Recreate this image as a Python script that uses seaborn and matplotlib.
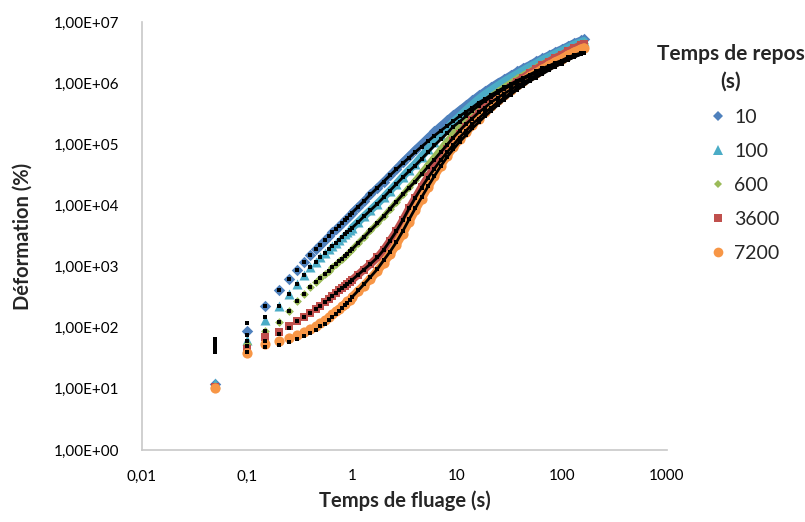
import matplotlib
matplotlib.use("Agg")
import matplotlib.pyplot as plt
import seaborn as sns
from matplotlib.lines import Line2D
from matplotlib.ticker import FixedLocator, FuncFormatter, NullLocator

# Temps de fluage (s)
temps = [0.05, 0.1, 0.15, 0.2, 0.25, 0.3, 0.35, 0.4, 0.45, 0.5,
         0.55, 0.6, 0.65, 0.7, 0.75, 0.8, 0.85, 0.9, 0.95, 1.0,
         1.15, 1.3, 1.5, 1.75, 2.0, 2.3, 2.65, 3.05, 3.5, 4.0,
         4.6, 5.3, 6.1, 7.0, 8.05, 9.25, 10.6, 12.2, 14.0, 16.1,
         18.5, 21.3, 24.5, 28.2, 32.4, 37.3, 42.9, 49.3, 56.7, 65.2,
         75.0, 86.2, 99.2, 114, 131, 151, 162]

repos = ["10", "100", "600", "3600", "7200"]

# Déformation (%) mesurée
def_10 = [12, 87, 224, 407, 631, 891, 1200, 1550, 1910, 2290,
          2690, 3160, 3630, 4170, 4680, 5250, 5750, 6310, 6920, 7590,
          9550, 11700, 15100, 19500, 24500, 30900, 39800, 51300, 64600, 81300,
          1.02e5, 1.29e5, 1.62e5, 2.0e5, 2.45e5, 3.02e5, 3.63e5, 4.37e5, 5.25e5, 6.31e5,
          7.41e5, 8.71e5, 1.02e6, 1.17e6, 1.35e6, 1.55e6, 1.78e6, 2.0e6, 2.29e6, 2.57e6,
          2.88e6, 3.24e6, 3.63e6, 4.07e6, 4.57e6, 5.01e6, 5.25e6]
def_100 = [12.6, 63, 132, 224, 355, 525, 724, 977, 1170, 1410,
           1660, 1910, 2190, 2450, 2750, 3090, 3390, 3720, 3980, 4270,
           5370, 6610, 8320, 10700, 13500, 17400, 22400, 29500, 38000, 47900,
           63100, 83200, 1.10e5, 1.41e5, 1.82e5, 2.34e5, 2.88e5, 3.63e5, 4.47e5, 5.50e5,
           6.61e5, 7.76e5, 9.12e5, 1.07e6, 1.23e6, 1.41e6, 1.62e6, 1.86e6, 2.09e6, 2.40e6,
           2.69e6, 3.02e6, 3.39e6, 3.80e6, 4.27e6, 4.68e6, 4.90e6]
def_600 = [11.2, 55, 89, 126, 191, 269, 355, 457, 562, 661,
           759, 851, 977, 1100, 1230, 1350, 1480, 1620, 1780, 1910,
           2450, 3020, 3890, 5130, 6610, 8710, 11500, 15100, 20000, 25700,
           34700, 46800, 63100, 85100, 1.15e5, 1.51e5, 2.0e5, 2.57e5, 3.24e5, 4.07e5,
           5.01e5, 6.17e5, 7.41e5, 8.71e5, 1.02e6, 1.20e6, 1.38e6, 1.58e6, 1.82e6, 2.09e6,
           2.34e6, 2.63e6, 3.02e6, 3.39e6, 3.80e6, 4.27e6, 4.47e6]
def_3600 = [10.7, 45.7, 69.2, 85.1, 105, 129, 148, 174, 200, 229,
            263, 295, 331, 372, 407, 447, 490, 525, 562, 603,
            741, 891, 1100, 1410, 1860, 2630, 3800, 5750, 8910, 13200,
            20000, 29500, 42700, 60300, 83200, 1.12e5, 1.48e5, 1.95e5, 2.51e5, 3.16e5,
            3.98e5, 4.90e5, 6.03e5, 7.24e5, 8.71e5, 1.05e6, 1.23e6, 1.45e6, 1.70e6, 1.95e6,
            2.24e6, 2.57e6, 2.88e6, 3.31e6, 3.72e6, 4.17e6, 4.37e6]
def_7200 = [10.5, 38.9, 53.7, 60.3, 67.6, 75.9, 85.1, 95.5, 107, 120,
            135, 151, 166, 186, 204, 224, 245, 269, 288, 316,
            398, 490, 631, 851, 1150, 1580, 2290, 3470, 5370, 8320,
            12900, 20000, 30200, 44700, 64600, 89100, 1.20e5, 1.58e5, 2.04e5, 2.63e5,
            3.31e5, 4.17e5, 5.25e5, 6.46e5, 7.76e5, 9.33e5, 1.10e6, 1.29e6, 1.48e6, 1.70e6,
            1.95e6, 2.24e6, 2.51e6, 2.88e6, 3.24e6, 3.63e6, 3.80e6]

# Déformation (%) du modèle (points noirs)
fit_10 = [66, 120, 224, 407, 631, 891, 1200, 1550, 1910, 2290,
          2690, 3160, 3630, 4170, 4680, 5250, 5750, 6310, 6920, 7590,
          9550, 11700, 15100, 19500, 24500, 30900, 38900, 49000, 60300, 74100,
          91200, 1.12e5, 1.38e5, 1.66e5, 2.0e5, 2.40e5, 2.88e5, 3.39e5, 3.98e5, 4.79e5,
          5.50e5, 6.46e5, 7.41e5, 8.51e5, 9.55e5, 1.10e6, 1.23e6, 1.38e6, 1.55e6, 1.74e6,
          1.91e6, 2.14e6, 2.34e6, 2.63e6, 2.88e6, 3.09e6, 3.16e6]
fit_100 = [57.5, 75.9, 148, 224, 355, 525, 724, 977, 1170, 1410,
           1660, 1910, 2190, 2450, 2750, 3090, 3390, 3720, 3980, 4270,
           5370, 6610, 8320, 10700, 13500, 17400, 22400, 28800, 36300, 44700,
           57500, 74100, 95500, 1.20e5, 1.51e5, 1.95e5, 2.34e5, 2.88e5, 3.55e5, 4.27e5,
           5.13e5, 5.89e5, 6.92e5, 7.94e5, 9.12e5, 1.02e6, 1.17e6, 1.32e6, 1.48e6, 1.66e6,
           1.86e6, 2.04e6, 2.29e6, 2.51e6, 2.82e6, 3.02e6, 3.16e6]
fit_600 = [52.5, 61.7, 89, 126, 191, 269, 355, 457, 562, 661,
           759, 851, 977, 1100, 1230, 1350, 1480, 1620, 1780, 1910,
           2450, 3020, 3890, 5130, 6610, 8710, 11500, 15100, 19500, 24500,
           32400, 42700, 56200, 74100, 97700, 1.29e5, 1.66e5, 2.14e5, 2.63e5, 3.31e5,
           3.98e5, 4.90e5, 5.75e5, 6.76e5, 7.76e5, 9.12e5, 1.02e6, 1.17e6, 1.35e6, 1.51e6,
           1.70e6, 1.91e6, 2.14e6, 2.40e6, 2.69e6, 2.95e6, 3.09e6]
fit_3600 = [45.7, 50.1, 60.3, 79.4, 100, 129, 148, 174, 200, 229,
            263, 295, 331, 372, 407, 447, 490, 525, 562, 603,
            741, 891, 1100, 1410, 1860, 2630, 3800, 5750, 8910, 13200,
            19500, 28200, 39800, 55000, 74100, 97700, 1.29e5, 1.66e5, 2.14e5, 2.63e5,
            3.31e5, 3.98e5, 4.90e5, 5.75e5, 6.92e5, 8.13e5, 9.55e5, 1.12e6, 1.29e6, 1.48e6,
            1.70e6, 1.91e6, 2.14e6, 2.40e6, 2.69e6, 3.02e6, 3.09e6]
fit_7200 = [39.8, 40.7, 47.9, 52.5, 58.9, 66.1, 74.1, 83.2, 93.3, 105,
            117, 132, 148, 166, 186, 209, 234, 257, 282, 316,
            407, 513, 676, 912, 1260, 1740, 2510, 3800, 5890, 8910,
            13500, 20400, 30200, 43700, 61700, 83200, 1.10e5, 1.41e5, 1.82e5, 2.29e5,
            2.88e5, 3.55e5, 4.37e5, 5.37e5, 6.46e5, 7.76e5, 9.12e5, 1.07e6, 1.23e6, 1.41e6,
            1.62e6, 1.86e6, 2.09e6, 2.40e6, 2.69e6, 2.95e6, 3.09e6]

mesures = [def_10, def_100, def_600, def_3600, def_7200]
modeles = [fit_10, fit_100, fit_600, fit_3600, fit_7200]

couleurs = ["#4F81BD", "#4BACC6", "#9BBB59", "#C0504D", "#F79646"]
marqueurs = ["D", "^", "D", "s", "o"]
tailles = [34, 52, 20, 40, 54]
epaisseurs = [5.2, 5.6, 4.0, 5.6, 6.2]

# au-delà de 1 s les points se chevauchent en une bande continue
debut = temps.index(1.0)

sns.set_style("white")
plt.rcParams["font.family"] = ["Lato", "DejaVu Sans"]

fig = plt.figure(figsize=(8.05, 5.22), dpi=100)
ax = fig.add_axes([0.1764, 0.1379, 0.652, 0.820])

# mesures puis modèles par-dessus
for i in range(len(repos)):
    sns.scatterplot(x=temps, y=mesures[i], marker=marqueurs[i], s=tailles[i],
                    color=couleurs[i], linewidth=0, ax=ax, legend=False, zorder=2 + i)
    sns.lineplot(x=temps[debut:], y=mesures[i][debut:], color=couleurs[i],
                 linewidth=epaisseurs[i], ax=ax, legend=False, sort=False,
                 estimator=None, zorder=2 + i)
for i in range(len(repos)):
    sns.scatterplot(x=temps, y=modeles[i], marker="s", s=7, color="black",
                    linewidth=0, ax=ax, legend=False, zorder=10)
    sns.lineplot(x=temps[debut:], y=modeles[i][debut:], color="black",
                 linewidth=2.0, ax=ax, legend=False, sort=False,
                 estimator=None, zorder=10)

ax.set_xscale("log")
ax.set_yscale("log")
ax.set_xlim(0.01, 1000)
ax.set_ylim(1, 1e7)
ax.xaxis.set_major_locator(FixedLocator([0.01, 0.1, 1, 10, 100, 1000]))
ax.yaxis.set_major_locator(FixedLocator([10.0 ** k for k in range(8)]))
ax.xaxis.set_minor_locator(NullLocator())
ax.yaxis.set_minor_locator(NullLocator())
ax.xaxis.set_major_formatter(FuncFormatter(lambda v, p: f"{v:g}".replace(".", ",")))
ax.yaxis.set_major_formatter(FuncFormatter(lambda v, p: f"{v:.2E}".replace(".", ",")))

for s in ["top", "right"]:
    ax.spines[s].set_visible(False)
for s in ["left", "bottom"]:
    ax.spines[s].set_color("#C8C8C8")
    ax.spines[s].set_linewidth(1.2)
ax.tick_params(axis="both", direction="out", length=5, width=1.2, color="#C8C8C8",
               labelsize=11, labelcolor="black")
ax.tick_params(axis="x", pad=9)
ax.tick_params(axis="y", pad=11)

ax.set_xlabel("Temps de fluage (s)", fontsize=14.5, fontweight="bold", labelpad=5)
ax.set_ylabel("Déformation (%)", fontsize=14.5, fontweight="bold")
ax.yaxis.set_label_coords(-0.208, 0.5)

# légende
fig.text(0.908, 0.870, "Temps de repos\n(s)", ha="center", va="center",
         fontsize=15, fontweight="bold", linespacing=1.45)
poignees = [Line2D([], [], linestyle="none", marker=marqueurs[i], color=couleurs[i],
                   markersize=[5.2, 7, 4.2, 6, 7][i], markeredgewidth=0)
            for i in range(len(repos))]
fig.legend(poignees, repos, loc="upper left", bbox_to_anchor=(0.882, 0.792),
           frameon=False, fontsize=14, handlelength=0.8, handletextpad=0.45,
           labelspacing=0.88, borderaxespad=0, borderpad=0)

fig.savefig("out.png", dpi=100)
